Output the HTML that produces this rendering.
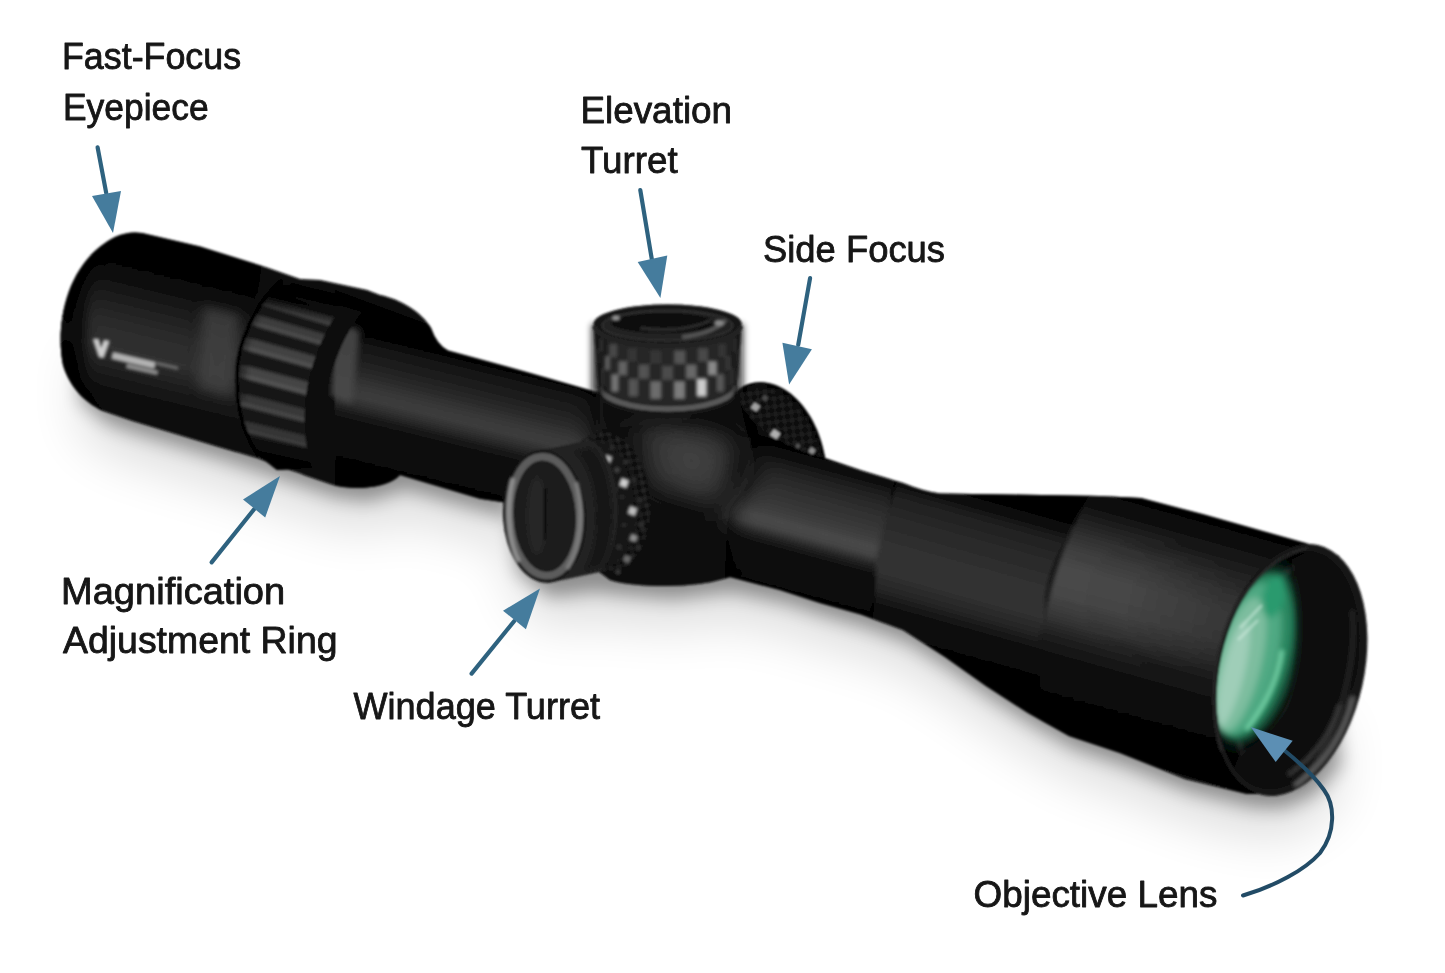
<!DOCTYPE html>
<html><head><meta charset="utf-8">
<style>
html,body{margin:0;padding:0;background:#fff;}
body{width:1445px;height:973px;overflow:hidden;font-family:"Liberation Sans",sans-serif;}
svg{display:block;position:absolute;left:0;top:0;}
text{font-family:"Liberation Sans",sans-serif;fill:#141414;}
</style></head><body>
<svg width="1445" height="973" viewBox="0 0 1445 973">
<defs>
<filter id="b05" filterUnits="userSpaceOnUse" x="0" y="0" width="1445" height="973"><feGaussianBlur stdDeviation="0.6"/></filter>
<filter id="b1" filterUnits="userSpaceOnUse" x="0" y="0" width="1445" height="973"><feGaussianBlur stdDeviation="1.2"/></filter>
<filter id="b15" filterUnits="userSpaceOnUse" x="0" y="0" width="1445" height="973"><feGaussianBlur stdDeviation="1.6"/></filter>
<filter id="b2" filterUnits="userSpaceOnUse" x="0" y="0" width="1445" height="973"><feGaussianBlur stdDeviation="2"/></filter>
<filter id="b3" filterUnits="userSpaceOnUse" x="0" y="0" width="1445" height="973"><feGaussianBlur stdDeviation="3"/></filter>
<filter id="b6" filterUnits="userSpaceOnUse" x="0" y="0" width="1445" height="973"><feGaussianBlur stdDeviation="6"/></filter>
<filter id="b9" filterUnits="userSpaceOnUse" x="0" y="0" width="1445" height="973"><feGaussianBlur stdDeviation="9"/></filter>
<filter id="b12" filterUnits="userSpaceOnUse" x="0" y="0" width="1445" height="973"><feGaussianBlur stdDeviation="12"/></filter>
<filter id="b25" filterUnits="userSpaceOnUse" x="0" y="0" width="1445" height="973"><feGaussianBlur stdDeviation="25"/></filter>
<filter id="b20" filterUnits="userSpaceOnUse" x="0" y="0" width="1445" height="973"><feGaussianBlur stdDeviation="20"/></filter>
<filter id="b30" filterUnits="userSpaceOnUse" x="0" y="0" width="1445" height="973"><feGaussianBlur stdDeviation="30"/></filter>

<path id="sil" d="M115,237 Q128,231 142,233 L200,246.5 L267,267.5 L300,279 L320,280 L367,290 L380,295 C400,299 422,312 431,328 Q437,345 448,350.5 L530,373 L600,393 L737,392 C742,412 762,442 822,457 L861.5,470.6 L903,483 Q925,492 940,493.4 L1100,496 L1141,498 L1204,514.6 L1266,532 L1308,543.7 L1339,556 L1365,640 L1277,794 L1247,794 L1185,779 L1120,753 L1069,736 L1028,713 L986,686 L945,657 L903,630 L861,614.6 L820,603 L780,590 L730,577 L725,578.6 Q700,586 667,586 Q630,586 610,580 L505,502.5 L480,498.7 L400,475 Q390,486 362,488 Q340,488 330,484 L305,475.5 L299,473 L278.4,466.6 L257.6,458.3 L216,446 L174.6,433.4 L133,421 L102,410.6 C85,402 70,388 63,365 C55,325 66,262 115,237 Z"/>
<clipPath id="silc"><use href="#sil"/></clipPath>
<linearGradient id="gT1" gradientUnits="userSpaceOnUse" x1="500" y1="365" x2="468.4" y2="493.9">
<stop offset="0" stop-color="#040404"/><stop offset=".04" stop-color="#070707"/><stop offset=".10" stop-color="#151515"/><stop offset=".21" stop-color="#1e1e1e"/><stop offset=".33" stop-color="#2c2c2c"/><stop offset=".42" stop-color="#393939"/><stop offset=".49" stop-color="#3c3c3c"/><stop offset=".57" stop-color="#2a2a2a"/><stop offset=".64" stop-color="#141414"/><stop offset=".73" stop-color="#0a0a0a"/><stop offset="1" stop-color="#060606"/></linearGradient>
<linearGradient id="gT2" gradientUnits="userSpaceOnUse" x1="800" y1="449" x2="762.5" y2="587">
<stop offset="0" stop-color="#040404"/><stop offset=".07" stop-color="#0a0a0a"/><stop offset=".14" stop-color="#1c1c1c"/><stop offset=".24" stop-color="#2a2a2a"/><stop offset=".35" stop-color="#333"/><stop offset=".45" stop-color="#3c3c3c"/><stop offset=".53" stop-color="#484848"/><stop offset=".585" stop-color="#444"/><stop offset=".655" stop-color="#222"/><stop offset=".72" stop-color="#0c0c0c"/><stop offset="1" stop-color="#060606"/></linearGradient>
<linearGradient id="gBand" gradientUnits="userSpaceOnUse" x1="980" y1="494.5" x2="931.4" y2="668">
<stop offset="0" stop-color="#040404"/><stop offset=".06" stop-color="#0a0a0a"/><stop offset=".12" stop-color="#1e1e1e"/><stop offset=".25" stop-color="#292929"/><stop offset=".40" stop-color="#303030"/><stop offset=".55" stop-color="#323232"/><stop offset=".65" stop-color="#262626"/><stop offset=".74" stop-color="#101010"/><stop offset=".85" stop-color="#070707"/><stop offset="1" stop-color="#050505"/></linearGradient>
<linearGradient id="gObj" gradientUnits="userSpaceOnUse" x1="1150" y1="500" x2="1081.4" y2="744.6">
<stop offset="0" stop-color="#040404"/><stop offset=".07" stop-color="#0a0a0a"/><stop offset=".13" stop-color="#1c1c1c"/><stop offset=".20" stop-color="#2e2e2e"/><stop offset=".28" stop-color="#404040"/><stop offset=".36" stop-color="#4a4a4a"/><stop offset=".46" stop-color="#464646"/><stop offset=".54" stop-color="#363636"/><stop offset=".62" stop-color="#1e1e1e"/><stop offset=".70" stop-color="#0e0e0e"/><stop offset=".80" stop-color="#070707"/><stop offset="1" stop-color="#050505"/></linearGradient>
<linearGradient id="gObjFade" gradientUnits="userSpaceOnUse" x1="1050" y1="600" x2="1290" y2="668">
<stop offset="0" stop-color="#0a0a0a" stop-opacity="0"/><stop offset=".3" stop-color="#0a0a0a" stop-opacity=".05"/><stop offset=".65" stop-color="#0a0a0a" stop-opacity=".26"/><stop offset="1" stop-color="#0a0a0a" stop-opacity=".46"/></linearGradient>
<linearGradient id="gEye" gradientUnits="userSpaceOnUse" x1="185" y1="240" x2="138" y2="432">
<stop offset="0" stop-color="#030303"/><stop offset=".22" stop-color="#070707"/><stop offset=".36" stop-color="#1c1c1c"/><stop offset=".50" stop-color="#2c2c2c"/><stop offset=".62" stop-color="#303030"/><stop offset=".74" stop-color="#1c1c1c"/><stop offset=".86" stop-color="#0b0b0b"/><stop offset="1" stop-color="#060606"/></linearGradient>

<clipPath id="knobc"><path d="M736,392 C745,383 757,381 768,383 C790,387 808,408 817,430 C822,442 824,452 826,462 L740,440 Z"/></clipPath>
<pattern id="chk" width="11" height="11" patternUnits="userSpaceOnUse" patternTransform="rotate(38)"><rect width="11" height="11" fill="#303030"/><rect width="5.5" height="5.5" fill="#070707"/><rect x="5.5" y="5.5" width="5.5" height="5.5" fill="#070707"/></pattern>
</defs>
<rect width="1445" height="973" fill="#fff"/>
<g id="shadow">
<path d="M80,401 L108,423.6 L139,434 L222,459 L284,479.6 L311,488.5 L336,497 L368,501 L406,489 L486,511.7 L511,519 L518,573 L551,597 L596,591 L616,594 L673,599 L731,591.6 L786,603 L826,616 L867,627.6 L909,643 L951,670 L992,699 L1034,726 L1075,749 L1126,766 L1191,792 L1253,807 L1283,808 L1314,795 L1341,765 L1335,707 L1308,737 L1277,750 L1247,749 L1185,734 L1120,708 L1069,691 L1028,668 L986,641 L945,612 L903,585 L861,569.6 L820,558 L780,545 L725,533.6 L667,541 L610,536 L590,533 L545,539 L512,515 L505,461 L480,453.7 L400,431 L362,443 L330,439 L305,430.5 L278,421.6 L216,401 L133,376 L102,365.6 L80,343 Z" fill="#000" opacity=".36" filter="url(#b9)"/>
<path d="M80,430 L108,452.6 L139,463 L222,488 L284,508.6 L311,517.5 L336,526 L368,530 L406,518 L486,540.7 L511,548 L518,602 L551,626 L596,620 L616,623 L673,628 L731,620.6 L786,632 L826,645 L867,656.6 L909,672 L951,699 L992,728 L1034,755 L1075,778 L1126,795 L1191,821 L1253,836 L1283,837 L1314,824 L1341,794 L1335,707 L1308,737 L1277,750 L1247,749 L1185,734 L1120,708 L1069,691 L1028,668 L986,641 L945,612 L903,585 L861,569.6 L820,558 L780,545 L725,533.6 L667,541 L610,536 L590,533 L545,539 L512,515 L505,461 L480,453.7 L400,431 L362,443 L330,439 L305,430.5 L278,421.6 L216,401 L133,376 L102,365.6 L80,343 Z" fill="#000" opacity=".13" filter="url(#b25)"/>
</g>

<g id="scope" filter="url(#b1)">
<g id="sideknob">
<path d="M736,392 C745,383 757,381 768,383 C790,387 808,408 817,430 C822,442 824,452 826,462 L740,440 Z" fill="#0c0c0c"/>
<g clip-path="url(#knobc)"><path d="M736,392 C745,383 757,381 768,383 C790,387 808,408 817,430 C822,442 824,452 826,462 L740,440 Z" fill="url(#chk)" opacity=".5"/><path d="M736,392 C745,383 757,381 768,383 C790,387 808,408 817,430 C822,442 824,452 826,462" fill="none" stroke="#050505" stroke-width="7" filter="url(#b2)"/><rect x="752" y="403.5" width="7" height="7" fill="#a2a2a2" transform="rotate(35 755.5 407)"/><rect x="771" y="430.5" width="8" height="8" fill="#b0b0b0" transform="rotate(35 775 434.5)"/><rect x="809.2" y="448.2" width="5.5" height="5.5" fill="#8e8e8e" transform="rotate(35 812 451)"/><rect x="762.5" y="395.5" width="5" height="5" fill="#4a4a4a" transform="rotate(35 765 398)"/><rect x="796" y="444" width="4" height="4" fill="#555" transform="rotate(35 798 446)"/></g>
</g>

<use href="#sil" fill="#080808"/>

<g clip-path="url(#silc)">
 <!-- eyepiece -->
 <path d="M40,200 L262,262 L235,470 L40,440 Z" fill="url(#gEye)"/>
 <path d="M203,305 L240,314 L232,398 L198,388 Z" fill="#474747" filter="url(#b6)" opacity=".7"/>
 <path d="M50,230 L100,232 L86,300 L84,380 L110,440 L50,430 Z" fill="#040404" filter="url(#b6)" opacity=".85"/>
 <!-- tube 1 + bell -->
 <path d="M335,290 L606,390 L606,560 L335,500 Z" fill="url(#gT1)"/>
 <path d="M336,322 L360,330 L352,404 L330,396 Z" fill="#484848" filter="url(#b3)" opacity=".9"/>
 <!-- tube 2 -->
 <path d="M700,420 L892,470 L884,640 L700,590 Z" fill="url(#gT2)"/>
 <!-- saddle -->
 <path d="M596,385 L738,385 C742,420 752,450 758,468 C748,486 735,498 728,512 L724,592 L596,592 Z" fill="#0d0d0d" filter="url(#b12)"/>
 <path d="M600,390 L700,392 L690,420 L600,430 Z" fill="#080808" filter="url(#b6)"/>
 <path d="M634,420 L736,438 L724,508 L648,486 Z" fill="#333" filter="url(#b12)"/>
 <path d="M660,432 L722,444 L712,492 L666,476 Z" fill="#424242" filter="url(#b12)" opacity=".9"/>
 <!-- dark band -->
 <path d="M901,470 C888,505 880,540 876,562 L872,640 L1050,730 L1046,600 C1050,565 1066,535 1092,510 L1092,480 Z" fill="url(#gBand)" filter="url(#b2)"/>
 <!-- light objective section -->
 <path d="M1092,490 C1066,535 1046,585 1040,650 L1040,730 L1300,810 L1360,560 L1150,490 Z" fill="url(#gObj)" filter="url(#b2)"/>
 <path d="M1040,480 L1380,480 L1380,830 L1040,830 Z" fill="url(#gObjFade)"/>
</g>

<g id="magring">
<clipPath id="ringc"><path d="M282,280 C262,296 243,330 238,360 C234,395 240,430 259,456 L277,470 L313,468 C302,445 303,400 310,375 C318,345 330,322 342,306 L330,284 Z"/></clipPath>
<path d="M282,280 C262,296 243,330 238,360 C234,395 240,430 259,456 L277,470 L313,468 C302,445 303,400 310,375 C318,345 330,322 342,306 L330,284 Z" fill="#191919"/>
<g clip-path="url(#ringc)" filter="url(#b1)"><line x1="225" y1="264.8" x2="350" y2="305.3" stroke="rgb(40,40,40)" stroke-width="3.6"/><line x1="225" y1="266" x2="350" y2="306.5" stroke="rgb(56,56,56)" stroke-width="1.1"/><line x1="225" y1="273.4" x2="350" y2="312.5" stroke="rgb(48,48,48)" stroke-width="6.8"/><line x1="225" y1="275.6" x2="350" y2="314.6" stroke="rgb(64,64,64)" stroke-width="2"/><line x1="225" y1="289.4" x2="350" y2="327" stroke="rgb(56,56,56)" stroke-width="9.5"/><line x1="225" y1="292.5" x2="350" y2="330" stroke="rgb(72,72,72)" stroke-width="2.9"/><line x1="225" y1="311.5" x2="350" y2="347.6" stroke="rgb(62,62,62)" stroke-width="11.7"/><line x1="225" y1="315.2" x2="350" y2="351.3" stroke="rgb(78,78,78)" stroke-width="3.5"/><line x1="225" y1="338" x2="350" y2="372.6" stroke="rgb(66,66,66)" stroke-width="13"/><line x1="225" y1="342.2" x2="350" y2="376.8" stroke="rgb(82,82,82)" stroke-width="3.9"/><line x1="225" y1="366.8" x2="350" y2="399.9" stroke="rgb(68,68,68)" stroke-width="13.5"/><line x1="225" y1="371.1" x2="350" y2="404.2" stroke="rgb(84,84,84)" stroke-width="4"/><line x1="225" y1="395.5" x2="350" y2="427.2" stroke="rgb(56,56,56)" stroke-width="13"/><line x1="225" y1="399.7" x2="350" y2="431.3" stroke="rgb(72,72,72)" stroke-width="3.9"/><line x1="225" y1="422" x2="350" y2="452.2" stroke="rgb(52,52,52)" stroke-width="11.7"/><line x1="225" y1="425.7" x2="350" y2="455.9" stroke="rgb(68,68,68)" stroke-width="3.5"/><line x1="225" y1="444.1" x2="350" y2="472.8" stroke="rgb(47,47,47)" stroke-width="9.5"/><line x1="225" y1="447.1" x2="350" y2="475.8" stroke="rgb(63,63,63)" stroke-width="2.9"/><line x1="225" y1="460.1" x2="350" y2="487.3" stroke="rgb(40,40,40)" stroke-width="6.8"/><line x1="225" y1="462.2" x2="350" y2="489.5" stroke="rgb(56,56,56)" stroke-width="2"/><line x1="225" y1="468.7" x2="350" y2="494.4" stroke="rgb(34,34,34)" stroke-width="3.6"/><line x1="225" y1="469.9" x2="350" y2="495.6" stroke="rgb(50,50,50)" stroke-width="1.1"/></g>
<g clip-path="url(#ringc)"><path d="M250,268 L350,292 L350,318 L250,300 Z" fill="#050505" opacity=".9" filter="url(#b6)"/><path d="M230,436 L330,458 L330,484 L230,474 Z" fill="#050505" opacity=".92" filter="url(#b6)"/><path d="M232,340 L250,300 L262,304 L246,345 L243,400 L232,400 Z" fill="#0a0a0a" opacity=".6" filter="url(#b3)"/></g>
<path d="M342,306 C330,322 318,345 310,375 C303,400 302,445 313,468 L331,478 C322,450 322,405 330,378 C338,350 350,326 362,312 Z" fill="#0a0a0a"/>
<path d="M282,280 C262,296 243,330 238,360 C234,395 240,430 259,456" fill="none" stroke="#060606" stroke-width="4"/>
</g>

<g id="elev">
<path d="M593.6,324 L598.6,392 A69,23 0 0 0 736.6,392 L741.6,324 A74,19.5 0 0 0 593.6,324 Z" fill="#252525"/>
<g filter="url(#b15)"><rect x="594.9" y="331.8" width="0.8" height="13" fill="rgb(72,72,72)"/><rect x="598.3" y="338.4" width="4.1" height="13.2" fill="rgb(106,106,106)"/><rect x="609.5" y="344" width="7.6" height="13.4" fill="rgb(74,74,74)"/><rect x="627.3" y="348.2" width="10.2" height="13.5" fill="rgb(53,53,53)"/><rect x="649.6" y="350.4" width="11.5" height="13.6" fill="rgb(54,54,54)"/><rect x="674.1" y="350.4" width="11.5" height="13.6" fill="rgb(84,84,84)"/><rect x="697.8" y="348.2" width="10.2" height="13.5" fill="rgb(74,74,74)"/><rect x="718.2" y="344" width="7.6" height="13.4" fill="rgb(53,53,53)"/><rect x="732.9" y="338.4" width="4.1" height="13.2" fill="rgb(70,70,70)"/><rect x="740.2" y="331.8" width="0.8" height="13" fill="rgb(58,58,58)"/><rect x="596.6" y="349.6" width="2.1" height="13.8" fill="rgb(142,142,142)"/><rect x="603.9" y="356" width="5.8" height="14" fill="rgb(102,102,102)"/><rect x="618.4" y="361.2" width="8.9" height="14.1" fill="rgb(100,100,100)"/><rect x="638.5" y="364.5" width="10.8" height="14.3" fill="rgb(82,82,82)"/><rect x="661.8" y="365.7" width="11.5" height="14.3" fill="rgb(75,75,75)"/><rect x="685.9" y="364.5" width="10.8" height="14.3" fill="rgb(104,104,104)"/><rect x="707.9" y="361.2" width="8.9" height="14.1" fill="rgb(138,138,138)"/><rect x="725.5" y="356" width="5.8" height="14" fill="rgb(56,56,56)"/><rect x="736.5" y="349.6" width="2.1" height="13.8" fill="rgb(80,80,80)"/><rect x="597.2" y="361.2" width="0.8" height="17" fill="rgb(62,62,62)"/><rect x="600.5" y="368.2" width="3.9" height="17.3" fill="rgb(82,82,82)"/><rect x="611.3" y="374.2" width="7.3" height="17.6" fill="rgb(115,115,115)"/><rect x="628.5" y="378.7" width="9.8" height="17.8" fill="rgb(84,84,84)"/><rect x="650.2" y="381.1" width="11.1" height="17.9" fill="rgb(108,108,108)"/><rect x="673.9" y="381.1" width="11.1" height="17.9" fill="rgb(123,123,123)"/><rect x="696.8" y="378.7" width="9.8" height="17.8" fill="rgb(205,205,205)"/><rect x="716.6" y="374.2" width="7.3" height="17.6" fill="rgb(89,89,89)"/><rect x="730.8" y="368.2" width="3.9" height="17.3" fill="rgb(63,63,63)"/><rect x="738" y="361.2" width="0.8" height="17" fill="rgb(48,48,48)"/></g>
<path d="M599.6,392 A68,23 0 0 0 735.6,392" fill="none" stroke="#585858" stroke-width="5.5" transform="translate(0,-6)"/>
<path d="M598.6,392 A69,23 0 0 0 736.6,392" fill="none" stroke="#141414" stroke-width="4" transform="translate(0,-1)"/>
<rect x="591.6" y="324" width="12" height="70" fill="#0a0a0a" opacity=".8" filter="url(#b3)"/><rect x="733.6" y="324" width="10" height="70" fill="#0a0a0a" opacity=".7" filter="url(#b3)"/>
<ellipse cx="667.6" cy="324" rx="74" ry="19.5" fill="#141414"/>
<ellipse cx="667.6" cy="325.5" rx="65" ry="15.0" fill="#202020" stroke="#303030" stroke-width="2"/>
<ellipse cx="663.6" cy="323" rx="52" ry="10.0" fill="#0c0c0c"/>
<path d="M682,337 Q712,334 726,320" fill="none" stroke="#585858" stroke-width="4" filter="url(#b1)"/>
<path d="M640,328 Q680,334 712,320" fill="none" stroke="#343434" stroke-width="3" filter="url(#b1)"/>
<ellipse cx="616" cy="318" rx="4" ry="2.5" fill="#9a9a9a" filter="url(#b1)"/><ellipse cx="719" cy="323" rx="5" ry="3" fill="#8a8a8a" filter="url(#b1)"/>
<path d="M594.6,324 A73,19.5 0 0 0 740.6,324" fill="none" stroke="#242424" stroke-width="5" transform="translate(0,2)"/>
</g>

<g id="windage">
<ellipse cx="606" cy="502" rx="44" ry="70" transform="rotate(-4 606 502)" fill="#131313"/>
<ellipse cx="606" cy="502" rx="44" ry="70" transform="rotate(-4 606 502)" fill="url(#chk)" opacity=".45"/>
<ellipse cx="600" cy="504" rx="36" ry="62" transform="rotate(-4 600 504)" fill="#141414" filter="url(#b3)"/>
<g filter="url(#b1)"><rect x="604.5" y="455.5" width="7" height="7" fill="#b5b5b5" transform="rotate(20 608 459)"/><rect x="620" y="479" width="8" height="8" fill="#d0d0d0" transform="rotate(20 624 483)"/><rect x="628.5" y="507" width="8" height="8" fill="#bdbdbd" transform="rotate(20 632.5 511)"/><rect x="630" y="534.5" width="7" height="7" fill="#8e8e8e" transform="rotate(20 633.5 538)"/><rect x="623.5" y="555.5" width="7" height="7" fill="#6a6a6a" transform="rotate(20 627 559)"/><rect x="585" y="441" width="6" height="6" fill="#6a6a6a" transform="rotate(20 588 444)"/><rect x="595.5" y="447.5" width="5" height="5" fill="#3a3a3a" transform="rotate(20 598 450)"/><rect x="614.5" y="467.5" width="5" height="5" fill="#444" transform="rotate(20 617 470)"/><rect x="597.5" y="463.5" width="5" height="5" fill="#3c3c3c" transform="rotate(20 600 466)"/><rect x="609.5" y="444.5" width="5" height="5" fill="#2e2e2e" transform="rotate(20 612 447)"/><rect x="623.5" y="459.5" width="5" height="5" fill="#333" transform="rotate(20 626 462)"/><rect x="631.5" y="477.5" width="5" height="5" fill="#2c2c2c" transform="rotate(20 634 480)"/><rect x="587.5" y="455.5" width="5" height="5" fill="#2e2e2e" transform="rotate(20 590 458)"/><rect x="575.5" y="444.5" width="5" height="5" fill="#333" transform="rotate(20 578 447)"/><rect x="637.5" y="497.5" width="5" height="5" fill="#2e2e2e" transform="rotate(20 640 500)"/><rect x="638.5" y="522.5" width="5" height="5" fill="#333" transform="rotate(20 641 525)"/><rect x="635.5" y="545.5" width="5" height="5" fill="#2c2c2c" transform="rotate(20 638 548)"/><rect x="615.5" y="569.5" width="5" height="5" fill="#3a3a3a" transform="rotate(20 618 572)"/><rect x="619.5" y="494.5" width="5" height="5" fill="#2a2a2a" transform="rotate(20 622 497)"/><rect x="621.5" y="522.5" width="5" height="5" fill="#2c2c2c" transform="rotate(20 624 525)"/><rect x="616.5" y="544.5" width="5" height="5" fill="#333" transform="rotate(20 619 547)"/><rect x="612.5" y="487.5" width="5" height="5" fill="#333" transform="rotate(20 615 490)"/><rect x="603.5" y="475.5" width="5" height="5" fill="#3a3a3a" transform="rotate(20 606 478)"/></g>
<path d="M545,449.6 L590,440 C622,455 628,540 600,572 L548,583 Z" fill="#232323"/>
<path d="M575,452 C600,470 604,540 585,570 L600,566 C618,540 614,470 592,448 Z" fill="#161616" filter="url(#b2)"/>
<ellipse cx="544.6" cy="516.2" rx="41.6" ry="66.6" transform="rotate(-3 544.6 516.2)" fill="#151515"/>
<ellipse cx="544.6" cy="516.2" rx="35" ry="59.5" transform="rotate(-3 544.6 516.2)" fill="#1d1d1d" stroke="#5c5c5c" stroke-width="7.5"/>
<path d="M513,478 C506,505 508,542 519,562" fill="none" stroke="#8e8e8e" stroke-width="5" filter="url(#b1)"/>
<path d="M576,482 C584,512 581,546 567,569" fill="none" stroke="#7c7c7c" stroke-width="4.5" filter="url(#b1)"/>
<ellipse cx="545" cy="516" rx="29" ry="53.5" transform="rotate(-3 545 516)" fill="#1c1c1c" filter="url(#b1)"/>
<ellipse cx="537" cy="516" rx="10" ry="40" fill="#2a2a2a" filter="url(#b3)" opacity=".8"/>
<line x1="545.5" y1="488" x2="545" y2="540" stroke="#080808" stroke-width="3"/>
</g>

<g id="objective">
<ellipse cx="1290" cy="670" rx="74" ry="128" transform="rotate(12.6 1290 670)" fill="#141414"/>
<clipPath id="openc"><ellipse cx="1288" cy="670" rx="68" ry="121" transform="rotate(12.6 1288 670)"/></clipPath>
<ellipse cx="1288" cy="670" rx="68" ry="121" transform="rotate(12.6 1288 670)" fill="#060606"/>
<g clip-path="url(#openc)">
<ellipse cx="1296" cy="672" rx="58" ry="112" transform="rotate(12.6 1296 672)" fill="none" stroke="#2a2a2a" stroke-width="5" filter="url(#b2)"/>
<ellipse cx="1256" cy="655" rx="44" ry="90" transform="rotate(14 1256 655)" fill="#164f38" filter="url(#b6)"/><g filter="url(#b3)"><ellipse cx="1252" cy="656" rx="37" ry="84" transform="rotate(14 1252 656)" fill="#2b8761"/><ellipse cx="1247" cy="659" rx="30" ry="78" transform="rotate(14 1247 659)" fill="#4fa983"/><ellipse cx="1240" cy="665" rx="21" ry="69" transform="rotate(14 1240 665)" fill="#7dbd9f"/><ellipse cx="1233" cy="674" rx="11" ry="54" transform="rotate(14 1233 674)" fill="#9fceb8"/><ellipse cx="1274" cy="596" rx="11" ry="22" transform="rotate(14 1274 596)" fill="#2a9a6e"/></g>
<ellipse cx="1296" cy="716" rx="12" ry="20" transform="rotate(20 1296 716)" fill="#383333" opacity=".8" filter="url(#b3)"/>
<path d="M1246,730 C1266,704 1278,680 1282,650" fill="none" stroke="#7fdcb0" stroke-width="4.5" filter="url(#b2)" opacity=".9"/>
<path d="M1240,628 L1262,605 M1238,640 L1258,620" stroke="#d8f3e6" stroke-width="2" filter="url(#b1)" opacity=".7"/>
<path d="M1290,560 C1302,600 1302,655 1290,695 C1280,722 1262,742 1240,752 L1225,790 L1300,800 L1380,640 L1330,540 Z" fill="#070707" filter="url(#b3)"/>
</g>
<path d="M1308,548 C1270,556 1240,590 1225,632 C1212,670 1210,715 1222,752" fill="none" stroke="#2b2b2b" stroke-width="3" filter="url(#b1)"/>
<path d="M1352,610 C1358,660 1340,735 1300,784" fill="none" stroke="#333" stroke-width="3" filter="url(#b2)"/>
<path d="M1353,696 C1345,734 1323,765 1294,786" fill="none" stroke="#5e5e5e" stroke-width="6" filter="url(#b2)"/>
<path d="M1340,704 C1331,735 1312,759 1288,775" fill="none" stroke="#3a3a3a" stroke-width="5" filter="url(#b2)"/>
</g>

<g id="logo" filter="url(#b1)" fill="#cfcfcf">
<path d="M93,339 L98.5,339 L101,348 L104,340 L109.5,341 L103.5,358 L99,357 Z"/>
<rect x="113" y="352" width="44" height="7" transform="rotate(13 113 352)" fill="#b4b4b4"/>
<rect x="127" y="363.5" width="32" height="4.5" transform="rotate(13 127 363.5)" fill="#8e8e8e"/>
<rect x="157" y="362" width="22" height="2.5" transform="rotate(13 157 362)" fill="#7a7a7a"/>
</g>

</g>
<g id="labels" font-size="37.2" stroke="#141414" stroke-width="0.8" stroke-linejoin="round" filter="url(#b05)">
<text x="62" y="69" textLength="179.1" lengthAdjust="spacingAndGlyphs">Fast-Focus</text>
<text x="63" y="119.8" textLength="145.7" lengthAdjust="spacingAndGlyphs">Eyepiece</text>
<text x="580.4" y="122.6" textLength="151.7" lengthAdjust="spacingAndGlyphs">Elevation</text>
<text x="581" y="173" textLength="96.6" lengthAdjust="spacingAndGlyphs">Turret</text>
<text x="763" y="261.5" textLength="182" lengthAdjust="spacingAndGlyphs">Side Focus</text>
<text x="61" y="604.2" textLength="224.2" lengthAdjust="spacingAndGlyphs">Magnification</text>
<text x="63" y="653.2" textLength="274.5" lengthAdjust="spacingAndGlyphs">Adjustment Ring</text>
<text x="353.5" y="718.5" textLength="246.5" lengthAdjust="spacingAndGlyphs">Windage Turret</text>
<text x="973.6" y="906.5" textLength="243.8" lengthAdjust="spacingAndGlyphs">Objective Lens</text>
</g>

<g id="arrows" filter="url(#b05)">
<line x1="97.6" y1="147.3" x2="106.2" y2="192.9" stroke="#2f627f" stroke-width="4.2" stroke-linecap="round"/><polygon points="92,196 121,191 113,233" fill="#457c9d"/>
<line x1="640.3" y1="190.1" x2="651.8" y2="259.2" stroke="#2f627f" stroke-width="4.2" stroke-linecap="round"/><polygon points="637.7,262.1 667.3,255.6 660.4,298" fill="#457c9d"/>
<line x1="810.1" y1="278" x2="798.2" y2="344.9" stroke="#2f627f" stroke-width="4.2" stroke-linecap="round"/><polygon points="782.4,342.7 811.9,349.2 789.1,384.5" fill="#457c9d"/>
<line x1="211.6" y1="562.4" x2="254.1" y2="509.3" stroke="#2f627f" stroke-width="4.2" stroke-linecap="round"/><polygon points="243,499.5 265.2,517.4 280,476" fill="#457c9d"/>
<line x1="471.6" y1="673.6" x2="514.1" y2="621.2" stroke="#2f627f" stroke-width="4.2" stroke-linecap="round"/><polygon points="503,610.7 525.9,629.2 540,588.5" fill="#457c9d"/>
<path d="M1243,895.5 C1275,886 1305,870 1320,853 C1336,832 1335,805 1324,790 C1315,777 1300,763 1283.6,749.7" fill="none" stroke="#234c66" stroke-width="4" stroke-linecap="round"/><polygon points="1292.7,740.7 1275.7,762.1 1250.8,727.1" fill="#5b8fb4"/>
</g>

</svg>
</body></html>
